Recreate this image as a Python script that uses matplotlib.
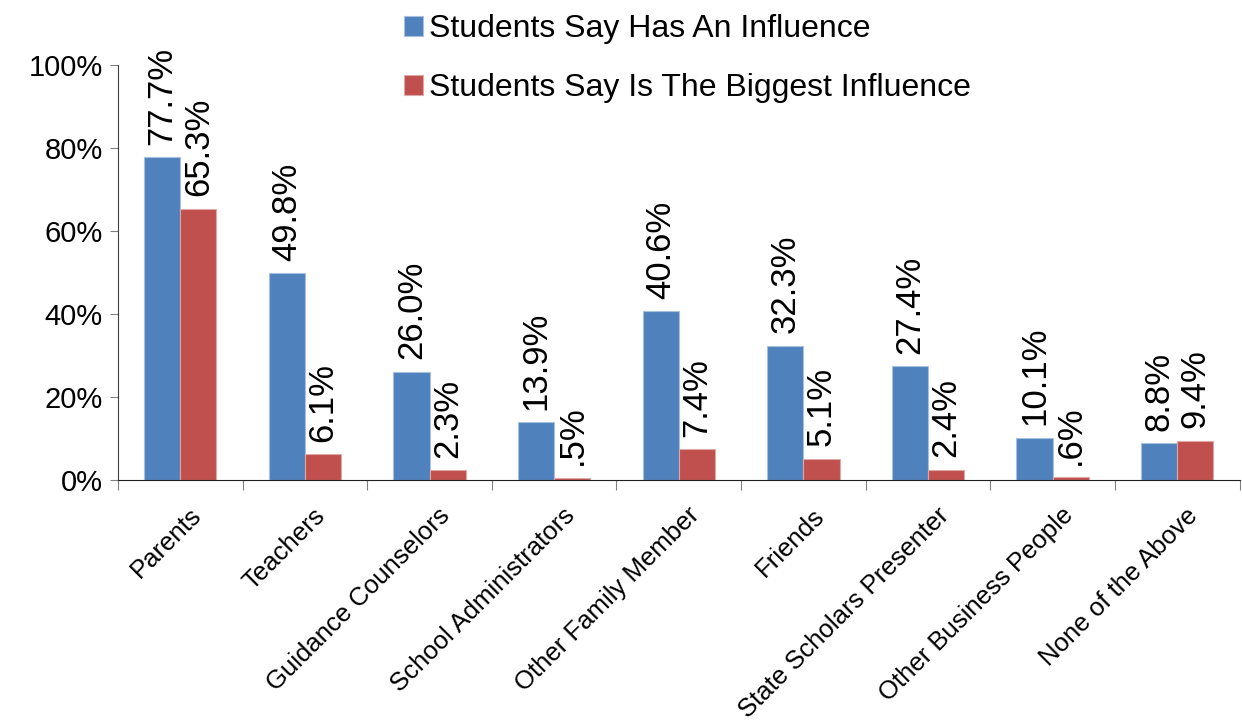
import numpy as np
import matplotlib.pyplot as plt
from matplotlib.ticker import FuncFormatter

# Chart data
categories = ['Parents', 'Teachers', 'Guidance Counselors', 'School Administrators',
              'Other Family Member', 'Friends', 'State Scholars Presenter',
              'Other Business People', 'None of the Above']
has_influence = [77.7, 49.8, 26.0, 13.9, 40.6, 32.3, 27.4, 10.1, 8.8]
biggest_influence = [65.3, 6.1, 2.3, 0.5, 7.4, 5.1, 2.4, 0.6, 9.4]
has_labels = ['77.7%', '49.8%', '26.0%', '13.9%', '40.6%', '32.3%', '27.4%', '10.1%', '8.8%']
biggest_labels = ['65.3%', '6.1%', '2.3%', '.5%', '7.4%', '5.1%', '2.4%', '.6%', '9.4%']

plt.rcParams['font.family'] = ['Liberation Sans', 'DejaVu Sans']

blue = '#4F81BD'
red = '#C0504D'

fig = plt.figure(figsize=(12.42, 7.28), dpi=100)
ax = fig.add_axes([0.095, 0.341, 0.903, 0.570])

x = np.arange(len(categories))
w = 0.29
b1 = ax.bar(x - w / 2, has_influence, w, color=blue, edgecolor='#A7C0DE', linewidth=0.8,
            label='Students Say Has An Influence')
b2 = ax.bar(x + w / 2, biggest_influence, w, color=red, edgecolor='#DFA8A6', linewidth=0.8,
            label='Students Say Is The Biggest Influence')

for bars, labels in [(b1, has_labels), (b2, biggest_labels)]:
    for rect, txt in zip(bars, labels):
        ax.annotate(txt, (rect.get_x() + rect.get_width() / 2, rect.get_height()),
                    xytext=(0, 9), textcoords='offset points', rotation=90,
                    ha='center', va='bottom', fontsize=25)

ax.set_xlim(-0.5, len(categories) - 0.5)
ax.set_ylim(0, 100)
ax.set_yticks(np.arange(0, 101, 20))
ax.yaxis.set_major_formatter(FuncFormatter(lambda v, p: f'{v:.0f}%'))
ax.tick_params(axis='y', labelsize=21, length=6, color='#808080', pad=5)

# category boundary ticks
ax.set_xticks(np.arange(-0.5, len(categories), 1.0))
ax.set_xticklabels([])
ax.tick_params(axis='x', length=7, color='#808080')
for i, name in enumerate(categories):
    ax.annotate(name, (i, 0), xytext=(6, -17), textcoords='offset points',
                rotation=45, ha='right', va='top', fontsize=18.5,
                rotation_mode='anchor')

for s in ['top', 'right']:
    ax.spines[s].set_visible(False)
ax.spines['left'].set_color('#404040')
ax.spines['bottom'].set_color('#202020')

ax.legend(loc='upper left', bbox_to_anchor=(0.302, 1.02), bbox_transform=fig.transFigure,
          frameon=False, fontsize=23, handlelength=0.6, handleheight=0.6,
          handletextpad=0.2, labelspacing=0.9)

fig.savefig('out.png', dpi=100)
